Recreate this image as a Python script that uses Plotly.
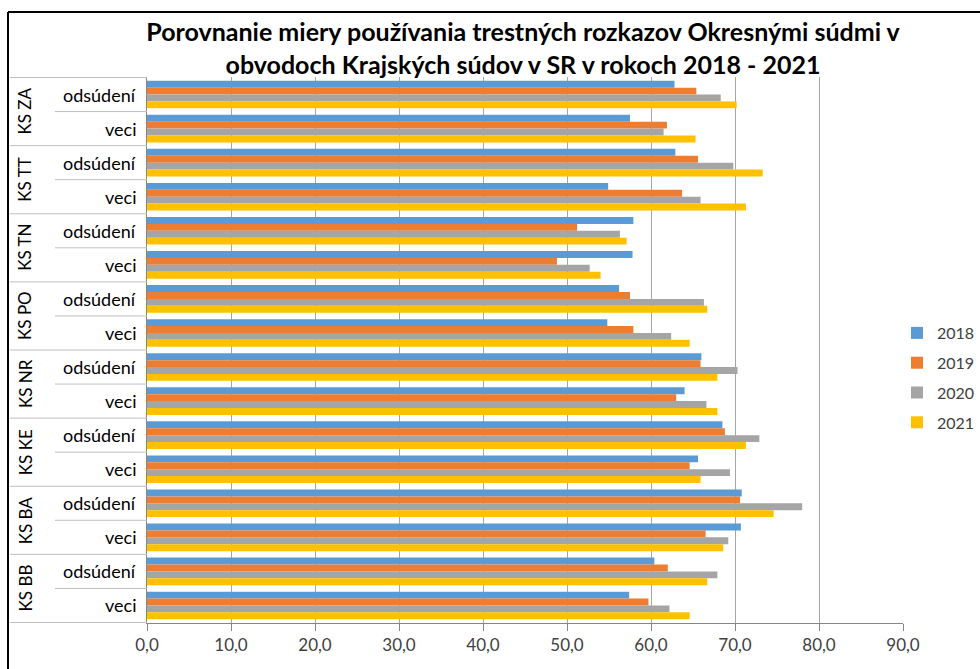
import plotly.graph_objects as go

courts = ["KS ZA", "KS TT", "KS TN", "KS PO", "KS NR", "KS KE", "KS BA", "KS BB"]
kinds = ["odsúdení", "veci"]
years = ["2018", "2019", "2020", "2021"]

# values top-to-bottom: for each court -> odsúdení, veci
v2018 = [62.8, 57.5, 62.9, 54.9, 57.9, 57.8, 56.2, 54.8, 66.0, 64.0, 68.5, 65.6, 70.8, 70.7, 60.4, 57.4]
v2019 = [65.4, 61.9, 65.6, 63.7, 51.2, 48.8, 57.5, 57.9, 65.9, 63.0, 68.8, 64.6, 70.6, 66.5, 62.0, 59.7]
v2020 = [68.3, 61.5, 69.8, 65.9, 56.3, 52.7, 66.3, 62.4, 70.3, 66.6, 72.9, 69.4, 78.0, 69.2, 67.9, 62.2]
v2021 = [70.2, 65.3, 73.3, 71.3, 57.1, 54.0, 66.7, 64.6, 67.9, 67.9, 71.3, 65.9, 74.6, 68.6, 66.7, 64.6]

colors = ["#5B9BD5", "#ED7D31", "#A5A5A5", "#FFC000"]
series = [v2018, v2019, v2020, v2021]

cats = [f"{c} {k}" for c in courts for k in kinds]

W, H = 980, 669
L, R, T, B = 147, 77, 77, 46
pw, ph = W - L - R, H - T - B

def px_x(p):
    return (p - L) / pw

def px_y(p):
    return (H - B - p) / ph

FONT = "Lato"

fig = go.Figure()
for name, vals, col in zip(years, series, colors):
    fig.add_trace(go.Bar(
        y=cats, x=vals, name=name, orientation="h",
        marker=dict(color=col, line=dict(width=0)),
        legendgroup=name,
    ))

shapes = []
ann = []
# outer frame (cut off at right and bottom)
shapes.append(dict(type="line", xref="paper", yref="paper",
                   x0=px_x(8), x1=px_x(8), y0=px_y(12), y1=px_y(H + 5),
                   line=dict(color="#000000", width=2)))
shapes.append(dict(type="line", xref="paper", yref="paper",
                   x0=px_x(8), x1=px_x(W + 5), y0=px_y(12), y1=px_y(12),
                   line=dict(color="#000000", width=2)))

n = len(cats)
for gi, court in enumerate(courts):
    top = gi * 2 - 0.5
    shapes.append(dict(type="line", xref="paper", yref="y",
                       x0=px_x(10), x1=0, y0=top, y1=top,
                       line=dict(color="#BFBFBF", width=1)))
    mid = gi * 2 + 0.5
    shapes.append(dict(type="line", xref="paper", yref="y",
                       x0=px_x(55), x1=0, y0=mid, y1=mid,
                       line=dict(color="#BFBFBF", width=1)))
    ann.append(dict(text=court, xref="paper", yref="y", x=px_x(25), y=mid,
                    textangle=-90, showarrow=False, xanchor="center", yanchor="middle",
                    font=dict(family=FONT, size=17, color="#000000")))
    for ki, kind in enumerate(kinds):
        ann.append(dict(text=kind, xref="paper", yref="y", x=px_x(138), y=gi * 2 + ki,
                        showarrow=False, xanchor="right", yanchor="middle",
                        font=dict(family=FONT, size=18, color="#000000")))
bot = n - 0.5
shapes.append(dict(type="line", xref="paper", yref="y",
                   x0=px_x(10), x1=0, y0=bot, y1=bot,
                   line=dict(color="#BFBFBF", width=1)))

fig.update_layout(
    width=W, height=H,
    margin=dict(l=L, r=R, t=T, b=B, autoexpand=False),
    paper_bgcolor="white", plot_bgcolor="white",
    separators=",.",
    barmode="group", bargap=0.19, bargroupgap=0,
    title=dict(
        text="Porovnanie miery používania trestných rozkazov Okresnými súdmi v<br>obvodoch Krajských súdov v SR v rokoch 2018 - 2021",
        x=523 / W, xanchor="center", xref="container",
        y=1 - 41 / H, yanchor="middle", yref="container",
        font=dict(family=FONT, size=25, color="#000000", weight="bold"),
    ),
    xaxis=dict(
        range=[0, 90], tickmode="array", tickvals=list(range(0, 91, 10)),
        tickformat=".1f", showgrid=True, gridcolor="#A6A6A6", gridwidth=1,
        showline=True, linecolor="#868686", linewidth=1,
        ticks="outside", ticklen=7, tickcolor="#868686",
        tickfont=dict(family=FONT, size=17, color="#404040"),
        zeroline=False, fixedrange=True,
    ),
    yaxis=dict(
        categoryorder="array", categoryarray=cats, autorange="reversed",
        showticklabels=False, showline=True, linecolor="#868686", linewidth=1,
        ticks="", showgrid=False, zeroline=False,
    ),
    legend=dict(
        x=px_x(897), y=px_y(378), xanchor="left", yanchor="middle",
        traceorder="grouped", tracegroupgap=6, itemwidth=30,
        font=dict(family=FONT, size=16, color="#404040"),
        bgcolor="rgba(0,0,0,0)",
    ),
    shapes=shapes, annotations=ann,
    showlegend=True,
)

fig.write_html("out.html")
